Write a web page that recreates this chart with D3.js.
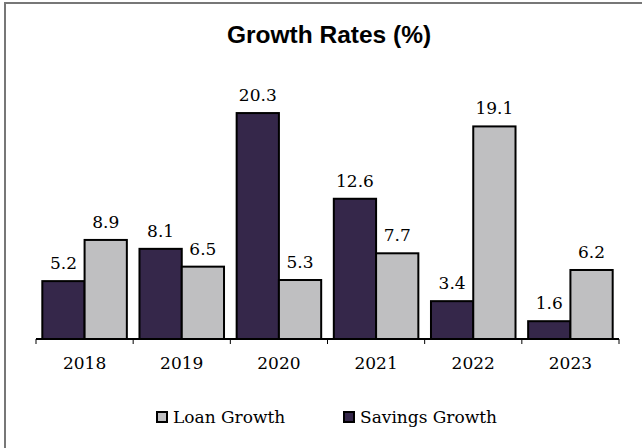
<!DOCTYPE html>
<html>
<head>
<meta charset="utf-8">
<script src="https://cdn.jsdelivr.net/npm/d3@7"></script>
<style>
  html, body { margin: 0; padding: 0; background: #fff; }
  svg { display: block; }
</style>
</head>
<body>
<svg id="chart" width="642" height="448"></svg>
<script>
const years = ["2018", "2019", "2020", "2021", "2022", "2023"];
const savingsGrowth = [5.2, 8.1, 20.3, 12.6, 3.4, 1.6];
const loanGrowth = [8.9, 6.5, 5.3, 7.7, 19.1, 6.2];
const seriesNames = ["Savings Growth", "Loan Growth"];
const legendOrder = ["Loan Growth", "Savings Growth"];

const colors = { "Savings Growth": "#35274a", "Loan Growth": "#bfbfc1" };
const serif = "'DejaVu Serif', Georgia, serif";

const svg = d3.select("#chart");
const W = 642, H = 448;

// frame
svg.append("rect").attr("x", 5).attr("y", 3).attr("width", W + 10).attr("height", H + 10)
  .attr("fill", "#fff").attr("stroke", "#777").attr("stroke-width", 2);

svg.append("text").attr("x", 329).attr("y", 43).attr("text-anchor", "middle")
  .attr("font-family", "'Liberation Sans', Arial, sans-serif").attr("font-weight", "bold")
  .attr("font-size", 24.5).attr("fill", "#000").text("Growth Rates (%)");

const x0 = 36, x1 = 619, baseY = 339;
const x = d3.scaleBand().domain(years).range([x0, x1]).paddingInner(0.13).paddingOuter(0.065);
const xs = d3.scaleBand().domain(seriesNames).range([0, x.bandwidth()]);
const y = d3.scaleLinear().domain([0, 25]).range([baseY, baseY - 25 * 11.13]);

const rows = years.map((yr, i) => ({ year: yr, values: [
  { name: "Savings Growth", v: savingsGrowth[i] },
  { name: "Loan Growth", v: loanGrowth[i] }
]}));

const g = svg.append("g");
const groups = g.selectAll("g.yr").data(rows).join("g")
  .attr("transform", d => `translate(${x(d.year)},0)`);

groups.selectAll("rect").data(d => d.values).join("rect")
  .attr("x", d => xs(d.name))
  .attr("y", d => y(d.v))
  .attr("width", xs.bandwidth())
  .attr("height", d => baseY - y(d.v))
  .attr("fill", d => colors[d.name])
  .attr("stroke", "#000").attr("stroke-width", 2);

groups.selectAll("text").data(d => d.values).join("text")
  .attr("x", d => xs(d.name) + xs.bandwidth() / 2)
  .attr("y", d => y(d.v) - 12)
  .attr("text-anchor", "middle")
  .attr("font-family", serif).attr("font-size", 17).attr("fill", "#000")
  .text(d => d.v.toFixed(1));

// category axis with tick marks at band boundaries
const axisG = svg.append("g");
axisG.append("line").attr("x1", x0).attr("x2", x1).attr("y1", baseY).attr("y2", baseY)
  .attr("stroke", "#000").attr("stroke-width", 2);
d3.range(years.length + 1).forEach(i => {
  const tx = x0 + i * (x1 - x0) / years.length;
  axisG.append("line").attr("x1", tx).attr("x2", tx).attr("y1", baseY).attr("y2", baseY + 5)
    .attr("stroke", "#000").attr("stroke-width", 1);
});
axisG.selectAll("text.cat").data(years).join("text").attr("class", "cat")
  .attr("x", d => x(d) + x.bandwidth() / 2).attr("y", 369)
  .attr("text-anchor", "middle").attr("font-family", serif).attr("font-size", 17)
  .text(d => d);

// legend
const legendX = { "Loan Growth": 157, "Savings Growth": 344 };
const lg = svg.selectAll("g.leg").data(legendOrder).join("g").attr("class", "leg")
  .attr("transform", d => `translate(${legendX[d]},412)`);
lg.append("rect").attr("width", 10).attr("height", 10)
  .attr("fill", d => colors[d]).attr("stroke", "#000").attr("stroke-width", 2);
lg.append("text").attr("x", 16).attr("y", 11).attr("font-family", serif).attr("font-size", 17)
  .text(d => d);
</script>
</body>
</html>
